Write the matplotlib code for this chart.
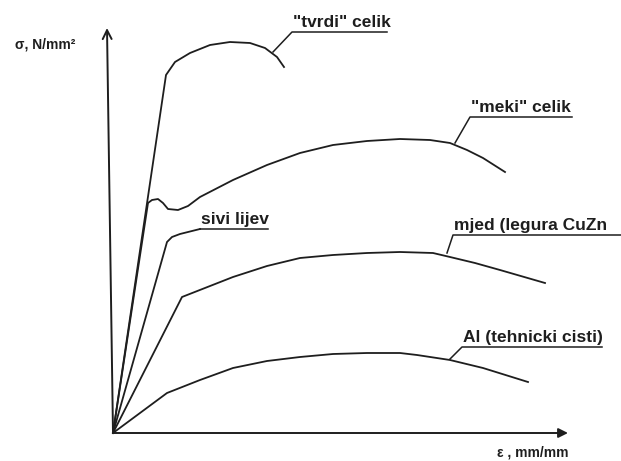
import matplotlib.pyplot as plt

# strain (arbitrary units) and stress (N/mm2)
tvrdi_eps = [0, 5.3, 6.2, 7.7, 9.7, 11.7, 13.7, 15.2, 16.4, 17.1]
tvrdi_sig = [0, 358, 371, 380, 388, 391, 390, 385, 376, 366]

meki_eps = [0, 3.5, 3.9, 4.5, 5.0, 5.5, 6.5, 7.5, 8.7, 12.0, 15.4, 18.7, 22.0,
            25.4, 28.7, 31.7, 33.7, 35.4, 37.0, 39.2]
meki_sig = [0, 230, 233, 234, 230, 224, 223, 227, 236, 253, 268, 280, 288,
            292, 294, 293, 290, 283, 275, 261]

sivi_eps = [0, 5.4, 5.9, 6.7, 8.7]
sivi_sig = [0, 191, 196, 199, 204]

mjed_eps = [0, 6.9, 12.0, 15.4, 18.7, 22.0, 25.4, 28.7, 32.0, 33.7, 36.2, 38.7, 43.2]
mjed_sig = [0, 136, 156, 167, 175, 178, 180, 181, 180, 176, 170, 163, 150]

al_eps = [0, 5.4, 8.7, 12.0, 15.4, 18.7, 22.0, 25.4, 28.7, 30.4, 33.7, 37.0, 41.5]
al_sig = [0, 40, 53, 65, 72, 76, 79, 80, 80, 78, 73, 65, 51]

# label: text, leader start, leader end (start of underline), underline end
labels = [
    ('"tvrdi" celik', (16.0, 381), (17.9, 401), 27.4),
    ('"meki" celik', (34.2, 290), (35.7, 316), 45.9),
    ('sivi lijev', (8.7, 204), (8.7, 204), 15.5),
    ('mjed (legura CuZn', (33.4, 180), (34.0, 198), 52.0),
    ('Al (tehnicki cisti)', (33.7, 74), (34.9, 86), 48.9),
]

plt.rcParams['font.family'] = ['Liberation Sans', 'DejaVu Sans']
ink = '#1e1e1e'

fig = plt.figure(figsize=(6.21, 4.61), dpi=100)
ax = fig.add_axes([0, 0, 1, 1])
ax.set_xlim(-11.3, 50.8)
ax.set_ylim(-28, 433)
ax.axis('off')

for e, s in [(tvrdi_eps, tvrdi_sig), (meki_eps, meki_sig), (sivi_eps, sivi_sig),
             (mjed_eps, mjed_sig), (al_eps, al_sig)]:
    ax.plot(e, s, color=ink, lw=1.3, solid_joinstyle='round')

for text, p0, p1, x_end in labels:
    ax.plot([p0[0], p1[0], x_end], [p0[1], p1[1], p1[1]], color=ink, lw=1.1)
    ax.text(p1[0] + 0.1, p1[1] + 2, text, ha='left', va='bottom',
            fontsize=12.5, color=ink, fontweight='bold')

# axes with arrows
ax.annotate('', xy=(-0.6, 405), xytext=(0, 0),
            arrowprops=dict(arrowstyle='->', color=ink, lw=1.4,
                            mutation_scale=16, shrinkA=0, shrinkB=0))
ax.annotate('', xy=(45.5, 0), xytext=(0, 0),
            arrowprops=dict(arrowstyle='-|>', color=ink, lw=1.4,
                            mutation_scale=14, shrinkA=0, shrinkB=0))
ax.text(-9.8, 388, 'σ, N/mm²', fontsize=10, color=ink, va='center', ha='left',
        fontweight='bold')
ax.text(38.4, -19, 'ε , mm/mm', fontsize=10, color=ink, va='center', ha='left',
        fontweight='bold')

fig.savefig('out.png', dpi=100)
